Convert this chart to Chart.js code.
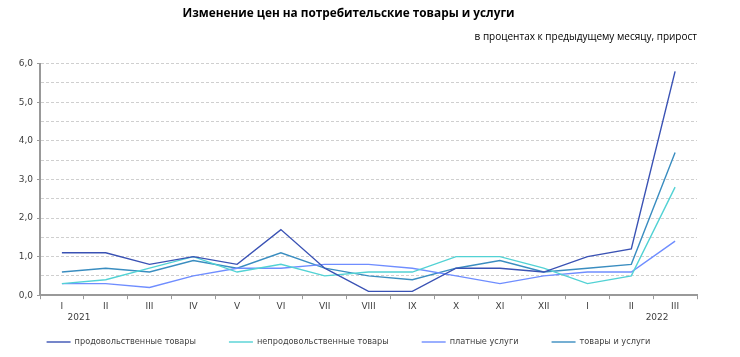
<!DOCTYPE html>
<html>
<head>
<meta charset="utf-8">
<script src="https://cdn.jsdelivr.net/npm/chart.js@4"></script>
<style>
  html, body { margin: 0; padding: 0; background: #fff; }
  #wrap { width: 740px; height: 357px; position: relative; }
</style>
</head>
<body>
<div id="wrap"><canvas id="c" width="740" height="357"></canvas></div>
<script>
const months = ['I','II','III','IV','V','VI','VII','VIII','IX','X','XI','XII','I','II','III'];
const yearLabels = ['2021', '2022'];
const seriesNames = ['продовольственные товары', 'непродовольственные товары', 'платные услуги', 'товары и услуги'];
const food     = [1.1, 1.1, 0.8, 1.0, 0.8, 1.7, 0.7, 0.1, 0.1, 0.7, 0.7, 0.6, 1.0, 1.2, 5.8];
const nonFood  = [0.3, 0.4, 0.7, 1.0, 0.6, 0.8, 0.5, 0.6, 0.6, 1.0, 1.0, 0.7, 0.3, 0.5, 2.8];
const services = [0.3, 0.3, 0.2, 0.5, 0.7, 0.7, 0.8, 0.8, 0.7, 0.5, 0.3, 0.5, 0.6, 0.6, 1.4];
const total    = [0.6, 0.7, 0.6, 0.9, 0.7, 1.1, 0.7, 0.5, 0.4, 0.7, 0.9, 0.6, 0.7, 0.8, 3.7];
const colors = ['#3A52B4', '#52D2D4', '#6F8DFF', '#3A8DC0'];

const tickFont = { family: 'DejaVu Sans', size: 9 };

const yearPlugin = {
  id: 'years',
  afterDraw(chart) {
    const x = chart.scales.x;
    const ctx = chart.ctx;
    ctx.save();
    ctx.font = '9px "DejaVu Sans"';
    ctx.fillStyle = '#404040';
    ctx.textAlign = 'center';
    ctx.textBaseline = 'middle';
    const y = x.bottom + 4;
    ctx.fillText(yearLabels[0], x.getPixelForValue(0) + 17, y);
    ctx.fillText(yearLabels[1], x.getPixelForValue(months.length - 1) - 18, y);
    ctx.restore();
  }
};

const legendPlugin = {
  id: 'lineLegend',
  afterDraw(chart) {
    const ctx = chart.ctx;
    const ds = chart.data.datasets;
    const lineW = 24, gapText = 4, gapItem = 33;
    ctx.save();
    ctx.font = '8.2px "DejaVu Sans"';
    const widths = ds.map(d => lineW + gapText + ctx.measureText(d.label).width);
    const totalW = widths.reduce((a, b) => a + b, 0) + gapItem * (ds.length - 1);
    let x = chart.chartArea.right / 2 - totalW / 2;
    const y = chart.height - 15;
    ds.forEach((d, i) => {
      ctx.strokeStyle = d.borderColor;
      ctx.lineWidth = 1.4;
      ctx.beginPath();
      ctx.moveTo(x, y);
      ctx.lineTo(x + lineW, y);
      ctx.stroke();
      ctx.fillStyle = '#404040';
      ctx.textAlign = 'left';
      ctx.textBaseline = 'middle';
      ctx.fillText(d.label, x + lineW + gapText, y);
      x += widths[i] + gapItem;
    });
    ctx.restore();
  }
};

const mk = (i, data) => ({
  label: seriesNames[i],
  data: data,
  borderColor: colors[i],
  backgroundColor: colors[i],
  borderWidth: 1.4,
  pointRadius: 0,
  tension: 0
});

new Chart(document.getElementById('c'), {
  type: 'line',
  data: {
    labels: months,
    datasets: [mk(0, food), mk(1, nonFood), mk(2, services), mk(3, total)]
  },
  plugins: [yearPlugin, legendPlugin],
  options: {
    responsive: false,
    animation: false,
    layout: { padding: { left: 0, right: 43, top: 0, bottom: 43 } },
    plugins: {
      title: {
        display: true,
        text: 'Изменение цен на потребительские товары и услуги',
        font: { family: 'Open Sans', size: 11.8, weight: 'bold' },
        color: '#000',
        padding: { top: 7, bottom: 9.5 }
      },
      subtitle: {
        display: true,
        text: 'в процентах к предыдущему месяцу, прирост',
        align: 'end',
        font: { family: 'Open Sans', size: 10 },
        color: '#000',
        padding: { top: 0, bottom: 21 }
      },
      legend: { display: false },
      tooltip: { enabled: false }
    },
    scales: {
      x: {
        offset: true,
        grid: {
          offset: true,
          drawOnChartArea: false,
          drawTicks: true,
          tickLength: 4,
          tickColor: '#999',
          color: '#999'
        },
        border: { color: '#999', width: 2 },
        ticks: { font: tickFont, color: '#404040', padding: 2, maxRotation: 0, autoSkip: false }
      },
      y: {
        min: 0,
        max: 6,
        afterFit(s) { s.width = 40; },
        grid: {
          color: (c) => c.tick && c.tick.value === 0 ? 'rgba(0,0,0,0)' : '#CFCFCF',
          tickColor: (c) => c.tick && Number.isInteger(Math.round(c.tick.value * 10) / 10) ? '#999' : 'rgba(0,0,0,0)',
          tickLength: 3,
          lineWidth: 1
        },
        border: { color: '#999', width: 2, dash: [3, 2] },
        ticks: {
          stepSize: 0.5,
          font: tickFont,
          color: '#404040',
          padding: 4,
          callback: (v) => Number.isInteger(v) ? v.toFixed(1).replace('.', ',') : ''
        }
      }
    }
  }
});
</script>
</body>
</html>
